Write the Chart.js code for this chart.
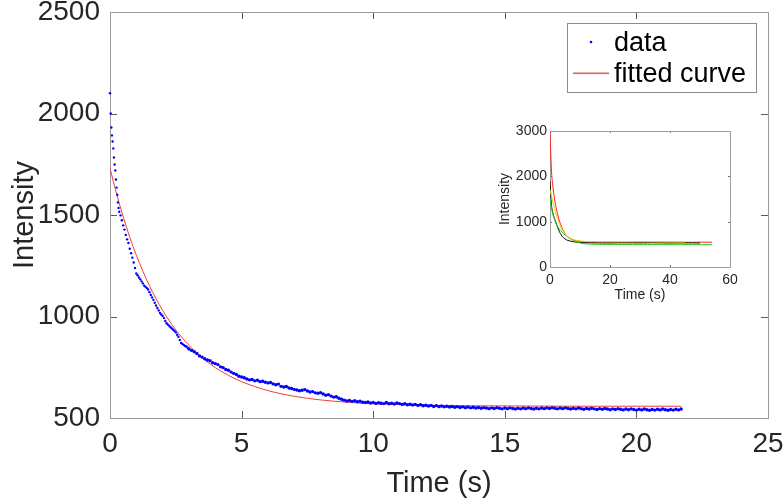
<!DOCTYPE html>
<html>
<head>
<meta charset="utf-8">
<script src="https://cdn.jsdelivr.net/npm/chart.js@4.4.1/dist/chart.umd.min.js"></script>
<style>
  html, body { margin: 0; padding: 0; background: #fff; }
  #wrap { position: relative; width: 784px; height: 500px; }
  #mainChart { position: absolute; left: 0; top: 0; }
  #insetChart { position: absolute; left: 480px; top: 110px; }
</style>
</head>
<body>
<div id="wrap">
  <canvas id="mainChart" width="784" height="500"></canvas>
  <canvas id="insetChart" width="260" height="200"></canvas>
</div>
<script>
// main plot: measured points
const dataTimes = [
    0, 0.025, 0.05, 0.075, 0.1, 0.125, 0.15, 0.175, 0.2, 0.225, 0.25, 0.275, 0.3, 0.325, 0.35,
    0.40, 0.45, 0.50, 0.55, 0.60, 0.65, 0.70, 0.75, 0.80, 0.85, 0.90, 0.95,
    1.00, 1.05, 1.10, 1.15, 1.20, 1.25, 1.30, 1.35, 1.40, 1.45, 1.50, 1.55, 1.60, 1.65, 1.70, 1.75, 1.80, 1.85, 1.90, 1.95,
    2.00, 2.05, 2.10, 2.15, 2.20, 2.25, 2.30, 2.35, 2.40, 2.45, 2.50, 2.55, 2.60, 2.65, 2.70, 2.75, 2.80, 2.85, 2.90, 2.95,
    3.0, 3.1, 3.2, 3.3, 3.4, 3.5, 3.6, 3.7, 3.8, 3.9,
    4.0, 4.1, 4.2, 4.3, 4.4, 4.5, 4.6, 4.7, 4.8, 4.9,
    5.0, 5.1, 5.2, 5.3, 5.4, 5.5, 5.6, 5.7, 5.8, 5.9,
    6.0, 6.1, 6.2, 6.3, 6.4, 6.5, 6.6, 6.7, 6.8, 6.9,
    7.0, 7.1, 7.2, 7.3, 7.4, 7.5, 7.6, 7.7, 7.8, 7.9,
    8.0, 8.1, 8.2, 8.3, 8.4, 8.5, 8.6, 8.7, 8.8, 8.9,
    9.0, 9.1, 9.2, 9.3, 9.4, 9.5, 9.6, 9.7, 9.8, 9.9,
    10.0, 10.1, 10.2, 10.3, 10.4, 10.5, 10.6, 10.7, 10.8, 10.9,
    11.0, 11.1, 11.2, 11.3, 11.4, 11.5, 11.6, 11.7, 11.8, 11.9,
    12.0, 12.1, 12.2, 12.3, 12.4, 12.5, 12.6, 12.7, 12.8, 12.9,
    13.0, 13.1, 13.2, 13.3, 13.4, 13.5, 13.6, 13.7, 13.8, 13.9,
    14.0, 14.1, 14.2, 14.3, 14.4, 14.5, 14.6, 14.7, 14.8, 14.9,
    15.0, 15.1, 15.2, 15.3, 15.4, 15.5, 15.6, 15.7, 15.8, 15.9,
    16.0, 16.1, 16.2, 16.3, 16.4, 16.5, 16.6, 16.7, 16.8, 16.9,
    17.0, 17.1, 17.2, 17.3, 17.4, 17.5, 17.6, 17.7, 17.8, 17.9,
    18.0, 18.1, 18.2, 18.3, 18.4, 18.5, 18.6, 18.7, 18.8, 18.9,
    19.0, 19.1, 19.2, 19.3, 19.4, 19.5, 19.6, 19.7, 19.8, 19.9,
    20.0, 20.1, 20.2, 20.3, 20.4, 20.5, 20.6, 20.7, 20.8, 20.9,
    21.0, 21.1, 21.2, 21.3, 21.4, 21.5, 21.6, 21.7
];
const dataIntensity = [
    2100, 2000, 1931, 1892, 1862, 1828, 1783, 1749, 1719, 1675, 1635, 1600, 1562, 1535, 1516,
    1498, 1474, 1449, 1428, 1402, 1380, 1362, 1334, 1312, 1290, 1266, 1239,
    1212, 1203, 1192, 1183, 1173, 1163, 1152, 1146, 1140, 1133, 1120, 1106, 1094, 1082, 1068, 1054, 1042, 1030, 1017, 1010,
    1003, 992, 978, 967, 960, 954, 947, 941, 935, 929, 922, 910, 900, 884, 870, 865, 860, 855, 852, 846,
    840, 833, 826, 818, 806, 800, 792, 786, 782, 772,
    768, 763, 752, 748, 739, 735, 726, 720, 714, 706,
    702, 698, 692, 688, 690, 683, 686, 679, 681, 676,
    673, 675, 668, 664, 667, 656, 653, 655, 648, 645,
    641, 638, 634, 637, 640, 633, 628, 630, 624, 622,
    625, 618, 612, 615, 608, 603, 605, 597, 592, 588,
    584, 586, 582, 585, 580, 583, 578, 576, 579, 574,
    577, 572, 575, 573, 571, 576, 570, 573, 569, 574,
    571, 567, 570, 565, 568, 564, 567, 562, 565, 560,
    563, 559, 562, 557, 561, 556, 559, 555, 558, 554,
    557, 553, 556, 552, 555, 551, 554, 550, 553, 549,
    552, 548, 551, 549, 546, 550, 547, 551, 548, 545,
    549, 546, 550, 547, 544, 548, 545, 549, 546, 550,
    547, 544, 548, 545, 549, 546, 550, 547, 551, 548,
    545, 549, 546, 550, 547, 544, 548, 545, 549, 546,
    543, 547, 544, 548, 545, 542, 546, 543, 547, 544,
    541, 545, 542, 546, 543, 540, 544, 541, 545, 542,
    539, 543, 540, 544, 541, 538, 542, 539, 543, 540,
    544, 541, 538, 542, 539, 543, 540, 544
];

// main plot: fitted curve
const fitTimes = [0, 0.25, 0.5, 0.75, 1, 1.5, 2, 2.5, 3, 3.5, 4, 4.5, 5, 6, 7, 8, 9, 10, 11, 12, 13, 14, 16, 18, 20, 21.7];
const fitIntensity = [1730, 1604, 1492, 1391, 1302, 1151, 1030, 934, 858, 797, 748, 710, 679, 635, 607, 589, 578, 570, 566, 563, 561, 560, 559, 558, 558, 558];

const xTicks = [0, 5, 10, 15, 20, 25];
const yTicks = [500, 1000, 1500, 2000, 2500];

// inset: four traces
const insetTimes = [0, 0.5, 1, 1.5, 2, 3, 4, 5, 6, 8, 10, 12, 15, 20, 25, 30, 35, 40, 45, 50, 54];
const insetRed = [3000, 2100, 1750, 1500, 1320, 1050, 860, 740, 660, 590, 560, 548, 545, 547, 544, 548, 546, 549, 545, 547, 546];
const insetYellow = [1700, 1560, 1420, 1290, 1170, 980, 830, 730, 660, 600, 575, 565, 560, 558, 556, 560, 555, 552, 550];
const insetGreen = [1500, 1300, 1150, 1050, 960, 850, 770, 710, 660, 580, 530, 510, 500, 495, 497, 494, 496, 493, 495, 492, 494];
const insetBlack = [1900, 1350, 1180, 1070, 980, 800, 680, 620, 585, 555, 540, 535, 532, 530, 533, 531, 534, 530, 532, 529];
const insetXTicks = [0, 20, 40, 60];
const insetYTicks = [0, 1000, 2000, 3000];

const FONT = 'Liberation Sans, Arial, Helvetica, sans-serif';
const TEXT = '#262626';

function pairs(xs, ys) {
    return ys.map((v, i) => ({ x: xs[i], y: v }));
}

// MATLAB-like box with inward ticks on every side, drawn under the data
const boxPlugin = {
    id: 'box',
    beforeDatasetsDraw(chart, args, opts) {
        const { ctx, chartArea: a, scales: { x, y } } = chart;
        const len = opts.tickLen;
        ctx.save();
        ctx.lineWidth = 1;
        ctx.strokeStyle = opts.tickColor;
        ctx.beginPath();
        x.ticks.forEach(t => {
            const px = Math.round(x.getPixelForValue(t.value)) + 0.5;
            ctx.moveTo(px, a.bottom); ctx.lineTo(px, a.bottom - len);
            ctx.moveTo(px, a.top); ctx.lineTo(px, a.top + len);
        });
        y.ticks.forEach(t => {
            const py = Math.round(y.getPixelForValue(t.value)) + 0.5;
            ctx.moveTo(a.left, py); ctx.lineTo(a.left + len, py);
            ctx.moveTo(a.right, py); ctx.lineTo(a.right - len, py);
        });
        ctx.stroke();
        ctx.strokeStyle = opts.color;
        ctx.strokeRect(Math.round(a.left) + 0.5, Math.round(a.top) + 0.5, Math.round(a.width), Math.round(a.height));
        ctx.restore();
    }
};

const legendPlugin = {
    id: 'boxLegend',
    afterDraw(chart) {
        const { ctx } = chart;
        ctx.save();
        ctx.fillStyle = '#fff';
        ctx.fillRect(567, 23, 190, 70);
        ctx.lineWidth = 1;
        ctx.strokeStyle = '#8c8c8c';
        ctx.strokeRect(567.5, 23.5, 189, 69);
        ctx.fillStyle = '#0000ff';
        ctx.beginPath();
        ctx.arc(591, 42, 1.3, 0, Math.PI * 2);
        ctx.fill();
        // sample line for the fit, soft red like the plotted curve
        ctx.fillStyle = 'rgb(240, 90, 90)';
        ctx.fillRect(573, 72.5, 36, 1.6);
        ctx.fillStyle = '#000';
        ctx.font = '27px ' + FONT;
        ctx.textBaseline = 'middle';
        ctx.fillText('data', 614, 44);
        ctx.fillText('fitted curve', 614, 75);
        ctx.restore();
    }
};

function fixedScale(size, isY) {
    return function (s) {
        if (isY) s.width = size; else s.height = size;
        s.paddingTop = 0; s.paddingBottom = 0; s.paddingLeft = 0; s.paddingRight = 0;
    };
}

const plain = v => String(v);

new Chart(document.getElementById('mainChart'), {
    type: 'scatter',
    data: {
        datasets: [{
            label: 'data',
            data: pairs(dataTimes, dataIntensity),
            showLine: false,
            pointRadius: ctx => (ctx.raw && ctx.raw.x >= 3 ? 1.7 : 1.2),
            pointBorderWidth: 0,
            pointBackgroundColor: '#0000ff',
            clip: false,
            order: 1
        }, {
            label: 'fitted curve',
            data: pairs(fitTimes, fitIntensity),
            showLine: true,
            borderColor: '#f03c3c',
            borderWidth: 1,
            pointRadius: 0,
            cubicInterpolationMode: 'monotone',
            order: 2
        }]
    },
    options: {
        responsive: false,
        animation: false,
        devicePixelRatio: 1,
        layout: { padding: { top: 12, right: 16, left: 0, bottom: 0 } },
        plugins: {
            legend: { display: false },
            tooltip: { enabled: false },
            box: { color: '#9a9a9a', tickColor: '#5a5a5a', tickLen: 7 }
        },
        scales: {
            x: {
                type: 'linear', min: 0, max: 25,
                afterBuildTicks: s => { s.ticks = xTicks.map(v => ({ value: v })); },
                afterFit: fixedScale(82, false),
                grid: { display: false, drawTicks: false },
                border: { display: false },
                ticks: { color: TEXT, font: { family: FONT, size: 28 }, padding: 9, maxRotation: 0, callback: plain },
                title: { display: true, text: 'Time (s)', color: TEXT, font: { family: FONT, size: 29, lineHeight: 1 }, padding: { top: 0, bottom: 2 } }
            },
            y: {
                type: 'linear', min: 500, max: 2500,
                afterBuildTicks: s => { s.ticks = yTicks.map(v => ({ value: v })); },
                afterFit: fixedScale(110, true),
                grid: { display: false, drawTicks: false },
                border: { display: false },
                ticks: { color: TEXT, font: { family: FONT, size: 28 }, padding: 10, callback: plain },
                title: { display: true, text: 'Intensity', color: TEXT, font: { family: FONT, size: 29, lineHeight: 1 }, padding: { top: 10, bottom: 0 } }
            }
        }
    },
    plugins: [boxPlugin, legendPlugin]
});

const insetLine = (data, color) => ({
    data,
    showLine: true,
    borderColor: color,
    borderWidth: 1,
    pointRadius: 0,
    tension: 0.3
});

new Chart(document.getElementById('insetChart'), {
    type: 'scatter',
    data: {
        datasets: [
            insetLine(pairs(insetTimes, insetYellow), '#e6d200'),
            insetLine(pairs(insetTimes, insetGreen), '#22cc22'),
            insetLine(pairs(insetTimes, insetBlack), '#111111'),
            insetLine(pairs(insetTimes, insetRed), '#ff2020')
        ]
    },
    options: {
        responsive: false,
        animation: false,
        devicePixelRatio: 1,
        layout: { padding: { top: 21, right: 10, left: 0, bottom: 0 } },
        plugins: {
            legend: { display: false },
            tooltip: { enabled: false },
            box: { color: '#a0a0a0', tickColor: '#707070', tickLen: 2 }
        },
        scales: {
            x: {
                type: 'linear', min: 0, max: 60,
                afterBuildTicks: s => { s.ticks = insetXTicks.map(v => ({ value: v })); },
                afterFit: fixedScale(43, false),
                grid: { display: false, drawTicks: false },
                border: { display: false },
                ticks: { color: TEXT, font: { family: FONT, size: 14 }, padding: 5, maxRotation: 0, callback: plain },
                title: { display: true, text: 'Time (s)', color: TEXT, font: { family: FONT, size: 14, lineHeight: 1 }, padding: { top: 0, bottom: 8 } }
            },
            y: {
                type: 'linear', min: 0, max: 3000,
                afterBuildTicks: s => { s.ticks = insetYTicks.map(v => ({ value: v })); },
                afterFit: fixedScale(70, true),
                grid: { display: false, drawTicks: false },
                border: { display: false },
                ticks: { color: TEXT, font: { family: FONT, size: 14 }, padding: 3, callback: plain },
                title: { display: true, text: 'Intensity', color: TEXT, font: { family: FONT, size: 14, lineHeight: 1 }, padding: { top: 18, bottom: 0 } }
            }
        }
    },
    plugins: [boxPlugin]
});
</script>
</body>
</html>
